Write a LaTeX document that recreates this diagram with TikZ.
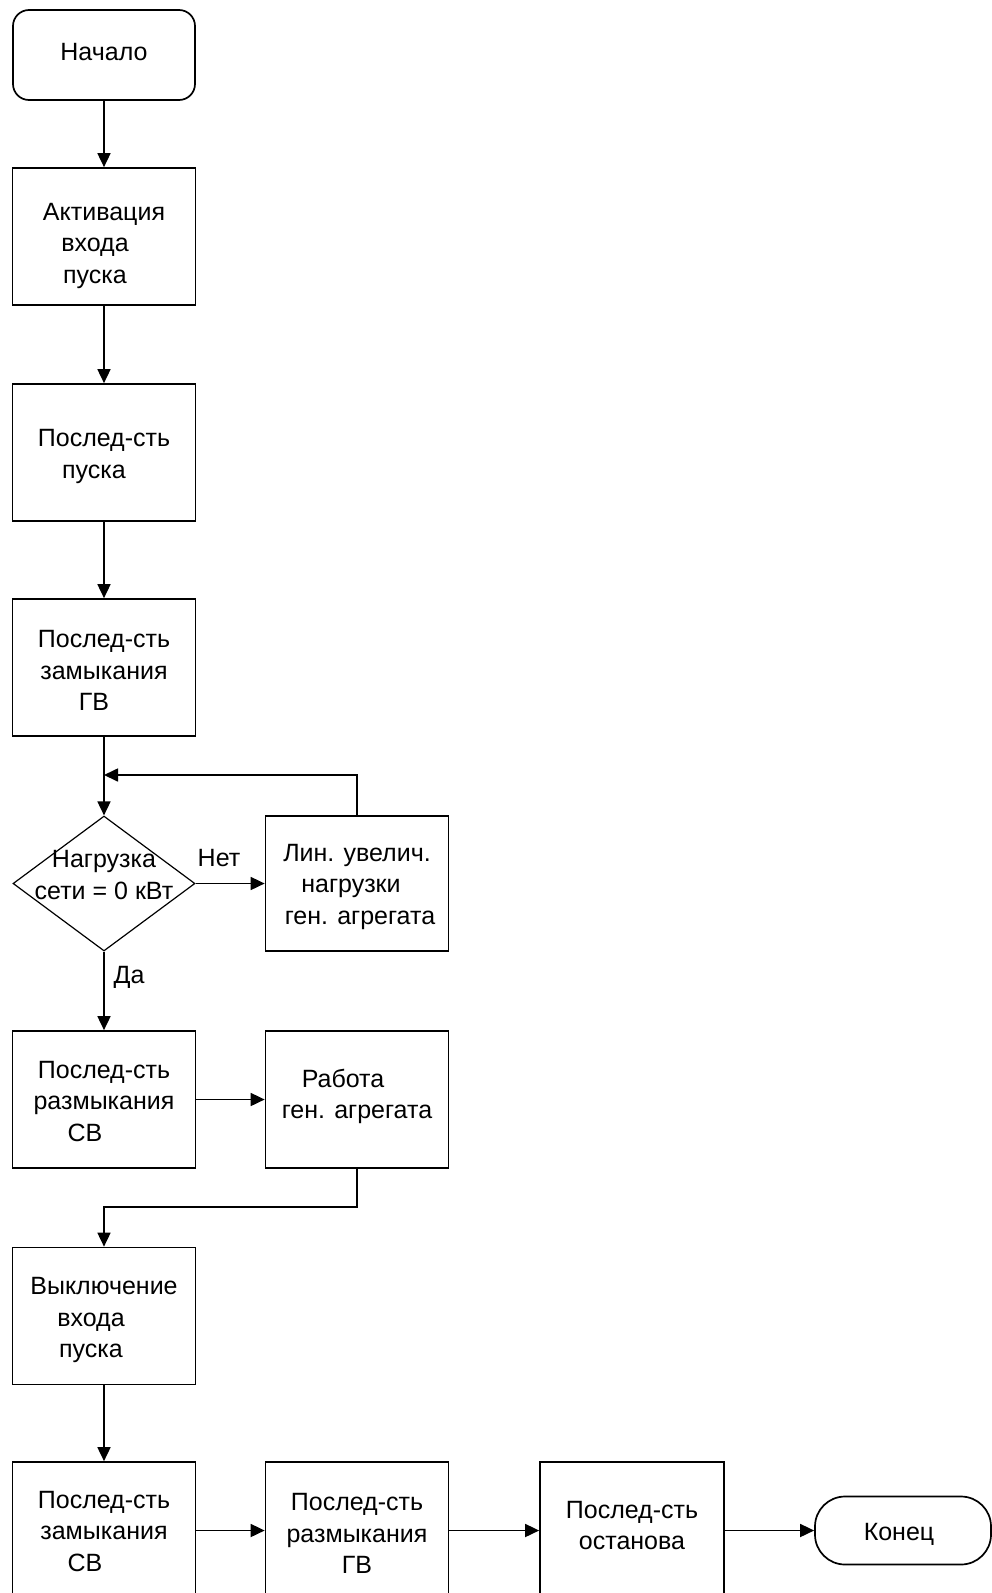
\documentclass[tikz,border=0pt]{standalone}
\usepackage{fontspec}
\setmainfont{Liberation Sans}
\usetikzlibrary{arrows.meta,shapes.geometric}
\tikzset{
  txt/.style={font=\fontsize{25}{31.5}\selectfont, align=center},
  box/.style={draw, line width=1.7pt, minimum width=183pt, minimum height=137pt, inner sep=0pt},
  term/.style={draw, line width=1.7pt, inner sep=0pt},
  decision/.style={draw, diamond, line width=1.2pt, minimum width=182pt, minimum height=135pt, inner sep=0pt},
  conn/.style={line width=1.7pt, -{Triangle[length=14pt,width=13pt]}},
  lbl/.style={txt, inner sep=0pt}
}
\begin{document}
\begin{tikzpicture}[x=1pt,y=-1pt]
\useasboundingbox (0,0) rectangle (992,1593);
\clip (0,0) rectangle (992,1593);
% left column
\node[term, minimum width=182pt, minimum height=90pt, rounded corners=16pt,
  label={[lbl,yshift=3pt]center:Начало}] (start) at (104,55) {};
\node[box, label={[lbl,yshift=-9pt]center:Активация\\входа\hspace*{18pt}\null\\пуска\hspace*{18pt}\null}] (a1) at (104,236.5) {};
\node[box, label={[lbl,yshift=-4pt]center:Послед-сть\\пуска\hspace*{20pt}\null}] (a2) at (104,452.5) {};
\node[box, label={[lbl,yshift=-3pt]center:Послед-сть\\замыкания\\ГВ\hspace*{20pt}\null}] (a3) at (104,667.5) {};
\node[decision] (d) at (104,883.5) {};
\node[lbl] (dt) at (104,875) {Нагрузка\\сети = 0 кВт};
\node[box, minimum height=135pt, label={[lbl,yshift=-3pt]center:Лин. увелич.\\нагрузки\hspace*{12pt}\null\\\hspace*{6pt}ген. агрегата}] (lin) at (357,883.5) {};
\node[box, label={[lbl,yshift=-2pt]center:Послед-сть\\размыкания\\СВ\hspace*{38pt}\null}] (b5) at (104,1099.5) {};
\node[box, label={[lbl,yshift=3pt]center:Работа\hspace*{28pt}\null\\ген. агрегата}] (rab) at (357,1099.5) {};
\node[box, label={[lbl,yshift=-4pt]center:Выключение\\входа\hspace*{26pt}\null\\пуска\hspace*{26pt}\null}] (b6) at (104,1316) {};
% bottom row
\node[box, label={[lbl,yshift=-1pt]center:Послед-сть\\замыкания\\СВ\hspace*{38pt}\null}] (b7) at (104,1530.5) {};
\node[box, label={[lbl,yshift=-3pt]center:Послед-сть\\размыкания\\ГВ}] (b8) at (357,1530.5) {};
\node[box, minimum width=184pt, label={[lbl,yshift=5pt]center:Послед-сть\\останова}] (b9) at (632,1530.5) {};
\node[term, minimum width=176pt, minimum height=68pt, rounded corners=30pt,
  label={[lbl,yshift=-4pt,xshift=-4pt]center:Конец}] (end) at (903,1530.5) {};
% labels
\node[lbl] (no) at (219,858) {Нет};
\node[lbl] (yes) at (129,977) {Да};
% junctions
\coordinate (j1) at (104,775);
\coordinate (j2) at (104,1207);
% connectors
\draw[conn] (start) -- (a1);
\draw[conn] (a1) -- (a2);
\draw[conn] (a2) -- (a3);
\draw[conn] (a3) -- (d);
\draw[conn] (lin.north) |- (j1);
\draw[conn] (d.east) -- (lin.west);
\draw[conn] (d) -- (b5);
\draw[conn] (b5) -- (rab);
\draw[conn] (rab.south) |- (j2) -- (b6.north);
\draw[conn] (b6) -- (b7);
\draw[conn] (b7) -- (b8);
\draw[conn] (b8) -- (b9);
\draw[conn] (b9) -- (end);
\end{tikzpicture}
\end{document}
